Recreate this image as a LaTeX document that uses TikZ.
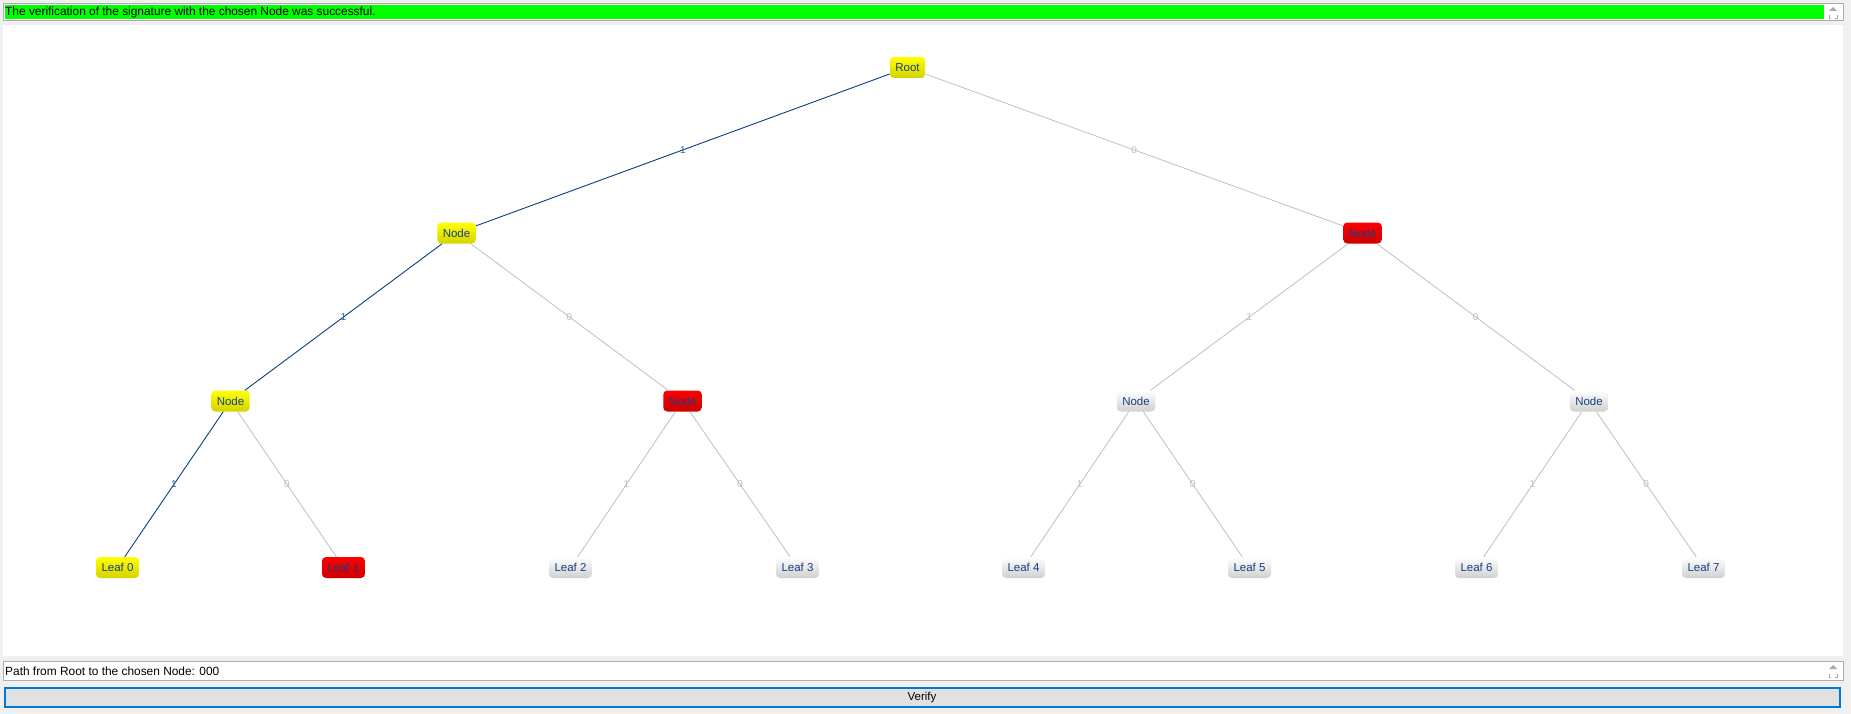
\documentclass[tikz,border=0pt]{standalone}
\usepackage{fontspec}
\setmainfont{Liberation Sans}
\definecolor{winbg}{RGB}{240,240,240}
\definecolor{boxline}{RGB}{171,173,179}
\definecolor{okgreen}{RGB}{0,255,0}
\definecolor{nodetext}{RGB}{24,62,128}
\definecolor{pathblue}{RGB}{8,64,130}
\definecolor{labblue}{RGB}{40,100,170}
\definecolor{restgray}{RGB}{192,192,192}
\definecolor{labgray}{RGB}{190,190,190}
\definecolor{btnblue}{RGB}{0,120,215}
\definecolor{btnfill}{RGB}{225,225,225}
\definecolor{arrowgray}{RGB}{170,170,170}
\begin{document}
\begin{tikzpicture}[x=1pt,y=-1pt,
  tnode/.style={rounded corners=4pt, minimum height=21pt, inner xsep=5.5pt,
    inner ysep=0pt, text=nodetext, font=\fontsize{11.5}{12}\selectfont},
  ynode/.style={tnode, top color=yellow, bottom color={rgb,255:red,212;green,212;blue,0}},
  rnode/.style={tnode, top color=red, bottom color={rgb,255:red,205;green,0;blue,0}},
  gnode/.style={tnode, top color=white, bottom color={rgb,255:red,208;green,208;blue,208}},
  onpath/.style={draw=pathblue, line width=0.9pt},
  offpath/.style={draw=restgray, line width=0.8pt},
  labon/.style={text=labblue, font=\fontsize{10}{10}\selectfont, inner sep=0pt},
  laboff/.style={text=labgray, font=\fontsize{10}{10}\selectfont, inner sep=0pt},
  plaintext/.style={anchor=west, inner sep=0pt, font=\fontsize{11.9}{13}\selectfont}
]
% window background and frame
\useasboundingbox (0,0) rectangle (1851,714);
\fill[winbg] (0,0) rectangle (1851,714);

% status line at the top
\draw[boxline, fill=white] (3.5,3.5) rectangle (1843.5,20.5);
\fill[okgreen] (5,5) rectangle (1824,19);
\fill[arrowgray] (1829,11) -- (1837,11) -- (1833,7) -- cycle;
\draw[arrowgray, line width=0.8pt] (1829,15) -- (1829,18) -- (1831,18) (1837,15) -- (1837,18) -- (1835,18);
\node[plaintext] (status) at (5,12.5) {The verification of the signature with the chosen Node was successful.};

% drawing area
\fill[white] (3,25) rectangle (1843,656);

% tree nodes
\node[ynode] (root) at (907.5,67.5) {Root};
\node[ynode] (n1) at (456.5,233) {Node};
\node[rnode] (n0) at (1362.5,233) {Node};
\node[ynode] (n11) at (230.5,401) {Node};
\node[rnode] (n10) at (682.5,401) {Node};
\node[gnode] (n01) at (1136,401) {Node};
\node[gnode] (n00) at (1589,401) {Node};
\node[ynode] (l0) at (117.5,567.5) {Leaf 0};
\node[rnode] (l1) at (343.5,567.5) {Leaf 1};
\node[gnode] (l2) at (570.5,567.5) {Leaf 2};
\node[gnode] (l3) at (797.5,567.5) {Leaf 3};
\node[gnode] (l4) at (1023.5,567.5) {Leaf 4};
\node[gnode] (l5) at (1249.5,567.5) {Leaf 5};
\node[gnode] (l6) at (1476.5,567.5) {Leaf 6};
\node[gnode] (l7) at (1703.5,567.5) {Leaf 7};

% connectors with their bit labels
\draw[onpath] (root) -- node[labon] {1} (n1);
\draw[offpath] (root) -- node[laboff] {0} (n0);
\draw[onpath] (n1) -- node[labon] {1} (n11);
\draw[offpath] (n1) -- node[laboff] {0} (n10);
\draw[offpath] (n0) -- node[laboff] {1} (n01);
\draw[offpath] (n0) -- node[laboff] {0} (n00);
\draw[onpath] (n11) -- node[labon] {1} (l0);
\draw[offpath] (n11) -- node[laboff] {0} (l1);
\draw[offpath] (n10) -- node[laboff] {1} (l2);
\draw[offpath] (n10) -- node[laboff] {0} (l3);
\draw[offpath] (n01) -- node[laboff] {1} (l4);
\draw[offpath] (n01) -- node[laboff] {0} (l5);
\draw[offpath] (n00) -- node[laboff] {1} (l6);
\draw[offpath] (n00) -- node[laboff] {0} (l7);

% path read-out
\draw[boxline, fill=white] (3.5,661.5) rectangle (1843.5,680.5);
\fill[arrowgray] (1829,669) -- (1837,669) -- (1833,665) -- cycle;
\draw[arrowgray, line width=0.8pt] (1829,674) -- (1829,677) -- (1831,677) (1837,674) -- (1837,677) -- (1835,677);
\node[plaintext] (pathinfo) at (5,671) {Path from Root to the chosen Node: 000};

% verify button
\draw[btnblue, fill=btnfill, line width=2pt] (5,688) rectangle (1840,707);
\node[font=\fontsize{11.5}{12}\selectfont, inner sep=0pt] (verify) at (922,698) {Verify};
\end{tikzpicture}
\end{document}
